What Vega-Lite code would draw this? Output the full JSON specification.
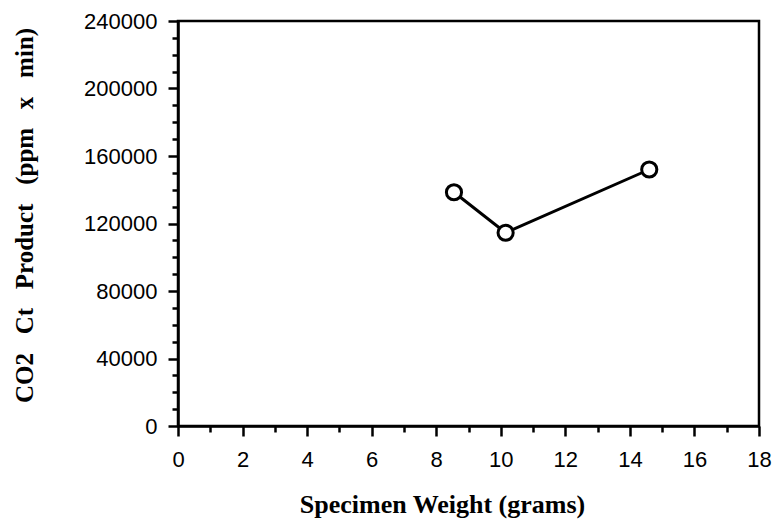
{
  "$schema": "https://vega.github.io/schema/vega-lite/v6.json",
  "width": 581,
  "height": 405,
  "autosize": {"type": "none"},
  "padding": {"left": 178, "top": 21, "right": 20, "bottom": 100},
  "background": "white",
  "config": {
    "view": {"stroke": "black", "strokeWidth": 2.5},
    "axis": {"grid": false}
  },
  "data": {
    "values": [
      {"weight": 8.55, "ct": 138500},
      {"weight": 10.15, "ct": 114500},
      {"weight": 14.6, "ct": 152000}
    ]
  },
  "layer": [
    {
      "mark": {"type": "line", "color": "black", "strokeWidth": 3},
      "encoding": {
        "x": {
          "field": "weight", "type": "quantitative",
          "scale": {"domain": [0, 18], "nice": false, "zero": false},
          "axis": {
            "orient": "bottom",
            "values": [0, 2, 4, 6, 8, 10, 12, 14, 16, 18],
            "tickSize": 10, "tickWidth": 2.5, "tickColor": "black",
            "domain": true, "domainColor": "black", "domainWidth": 2.5,
            "labelFont": "Liberation Sans", "labelFontSize": 22, "labelColor": "black",
            "labelPadding": 13, "labelFlush": false, "labelOverlap": false,
            "title": "Specimen Weight (grams)",
            "titleFont": "Liberation Serif", "titleFontWeight": "bold", "titleFontSize": 26,
            "titleColor": "black", "titleX": 264, "titleY": 86,
            "titleBaseline": "alphabetic", "titleAlign": "center"
          }
        },
        "y": {
          "field": "ct", "type": "quantitative",
          "scale": {"domain": [0, 240000], "nice": false},
          "axis": {
            "orient": "left",
            "values": [0, 40000, 80000, 120000, 160000, 200000, 240000],
            "format": "d",
            "tickSize": 10, "tickWidth": 2.5, "tickColor": "black",
            "domain": true, "domainColor": "black", "domainWidth": 2.5,
            "labelFont": "Liberation Sans", "labelFontSize": 22, "labelColor": "black",
            "labelPadding": 11, "labelFlush": false, "labelOverlap": false,
            "title": "CO2\u00a0\u00a0\u00a0Ct\u00a0\u00a0\u00a0Product\u00a0\u00a0\u00a0(ppm\u00a0\u00a0\u00a0x\u00a0\u00a0\u00a0min)",
            "titleFont": "Liberation Serif", "titleFontWeight": "bold", "titleFontSize": 25,
            "titleColor": "black", "titleX": -146, "titleY": 194,
            "titleBaseline": "alphabetic", "titleAlign": "center", "titleAngle": -90
          }
        }
      }
    },
    {
      "mark": {"type": "point", "shape": "circle", "filled": true, "fill": "white", "stroke": "black", "strokeWidth": 3, "size": 230, "opacity": 1},
      "encoding": {
        "x": {"field": "weight", "type": "quantitative", "axis": null},
        "y": {"field": "ct", "type": "quantitative", "axis": null}
      }
    },
    {
      "mark": {"type": "point", "opacity": 0},
      "encoding": {
        "x": {
          "field": "weight", "type": "quantitative",
          "axis": {
            "orient": "bottom",
            "values": [1, 3, 5, 7, 9, 11, 13, 15, 17],
            "tickSize": 6, "tickWidth": 2.5, "tickColor": "black",
            "domain": false, "labels": false, "title": null
          }
        },
        "y": {
          "field": "ct", "type": "quantitative",
          "axis": {
            "orient": "left",
            "values": [10000, 20000, 30000, 50000, 60000, 70000, 90000, 100000, 110000, 130000, 140000, 150000, 170000, 180000, 190000, 210000, 220000, 230000],
            "tickSize": 6, "tickWidth": 2.5, "tickColor": "black",
            "domain": false, "labels": false, "title": null
          }
        }
      }
    }
  ],
  "resolve": {"axis": {"x": "independent", "y": "independent"}}
}
